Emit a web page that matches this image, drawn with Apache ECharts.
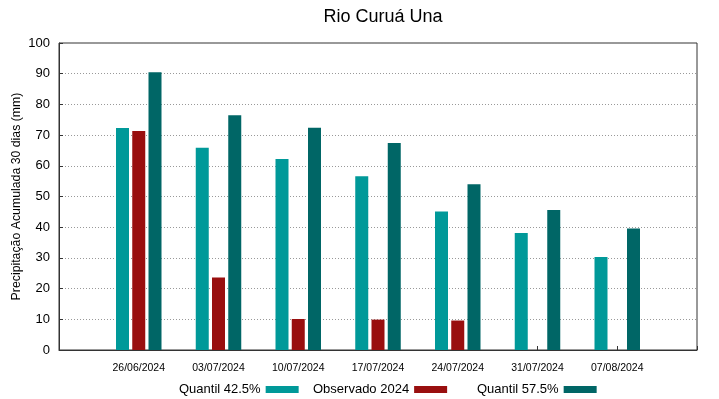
<!DOCTYPE html>
<html>
<head>
<meta charset="utf-8">
<script src="https://cdn.jsdelivr.net/npm/echarts@6/dist/echarts.min.js"></script>
<style>
  html, body { margin: 0; padding: 0; background: #fff; }
  #chart { width: 719px; height: 399px; }
</style>
</head>
<body>
<div id="chart"></div>
<script>
// datas (posição 0 e 8 vazias, como no gráfico original)
var categorias = ['', '26/06/2024', '03/07/2024', '10/07/2024', '17/07/2024', '24/07/2024', '31/07/2024', '07/08/2024', ''];
var quantil425 = [null, 72.3, 65.9, 62.2, 56.6, 45.1, 38.1, 30.3, null];
var observado2024 = [null, 71.3, 23.6, 10.1, 9.9, 9.6, null, null, null];
var quantil575 = [null, 90.5, 76.5, 72.4, 67.4, 54.0, 45.6, 39.6, null];
var yTicks = [0, 10, 20, 30, 40, 50, 60, 70, 80, 90, 100];

var fonte = 'Liberation Sans, Arial, sans-serif';

function legenda(nome, left) {
    return {
        data: [nome],
        left: left,
        top: 378,
        align: 'right',
        itemWidth: 33,
        itemHeight: 7,
        itemGap: 0,
        icon: 'rect',
        textStyle: { fontFamily: fonte, fontSize: 13, color: '#000' }
    };
}

var option = {
    backgroundColor: '#fff',
    animation: false,
    title: {
        text: 'Rio Curuá Una',
        left: 378,
        top: 3,
        textAlign: 'center',
        textStyle: { fontFamily: fonte, fontSize: 18, fontWeight: 'normal', color: '#000' }
    },
    legend: [
        legenda('Quantil 42.5%', 174),
        legenda('Observado 2024', 308),
        legenda('Quantil 57.5%', 472)
    ],
    grid: { left: 59, right: 22, top: 43, bottom: 49, outerBoundsMode: 'none',
            show: true, borderColor: '#333', borderWidth: 1 },
    xAxis: {
        type: 'category',
        data: categorias,
        boundaryGap: false,
        axisLine: { lineStyle: { color: '#333' } },
        axisTick: { inside: true, length: 4, lineStyle: { color: '#333' } },
        axisLabel: { fontFamily: fonte, fontSize: 10.5, color: '#000', margin: 13, interval: 0 },
        splitLine: { show: false }
    },
    yAxis: {
        type: 'value',
        min: 0,
        max: 100,
        interval: 10,
        name: 'Precipitação Acumulada 30 dias (mm)',
        nameLocation: 'middle',
        nameGap: 36,
        nameMoveOverlap: false,
        nameTextStyle: { fontFamily: fonte, fontSize: 12.3, color: '#000' },
        axisLine: { show: true, lineStyle: { color: '#333' } },
        axisTick: { show: true, inside: true, length: 4, lineStyle: { color: '#333' } },
        axisLabel: { fontFamily: fonte, fontSize: 13, color: '#000', margin: 9,
            customValues: yTicks },
        splitLine: { show: true, lineStyle: { type: [1, 2], color: '#999', width: 1 } }
    },
    series: [
        { name: 'Quantil 42.5%', type: 'bar', data: quantil425, barWidth: 13, barGap: '25%',
          itemStyle: { color: '#009999' } },
        { name: 'Observado 2024', type: 'bar', data: observado2024, barWidth: 13, barGap: '25%',
          itemStyle: { color: '#990f0f' } },
        { name: 'Quantil 57.5%', type: 'bar', data: quantil575, barWidth: 13, barGap: '25%',
          itemStyle: { color: '#006666' } }
    ]
};

var chart = echarts.init(document.getElementById('chart'));
chart.setOption(option);
</script>
</body>
</html>
